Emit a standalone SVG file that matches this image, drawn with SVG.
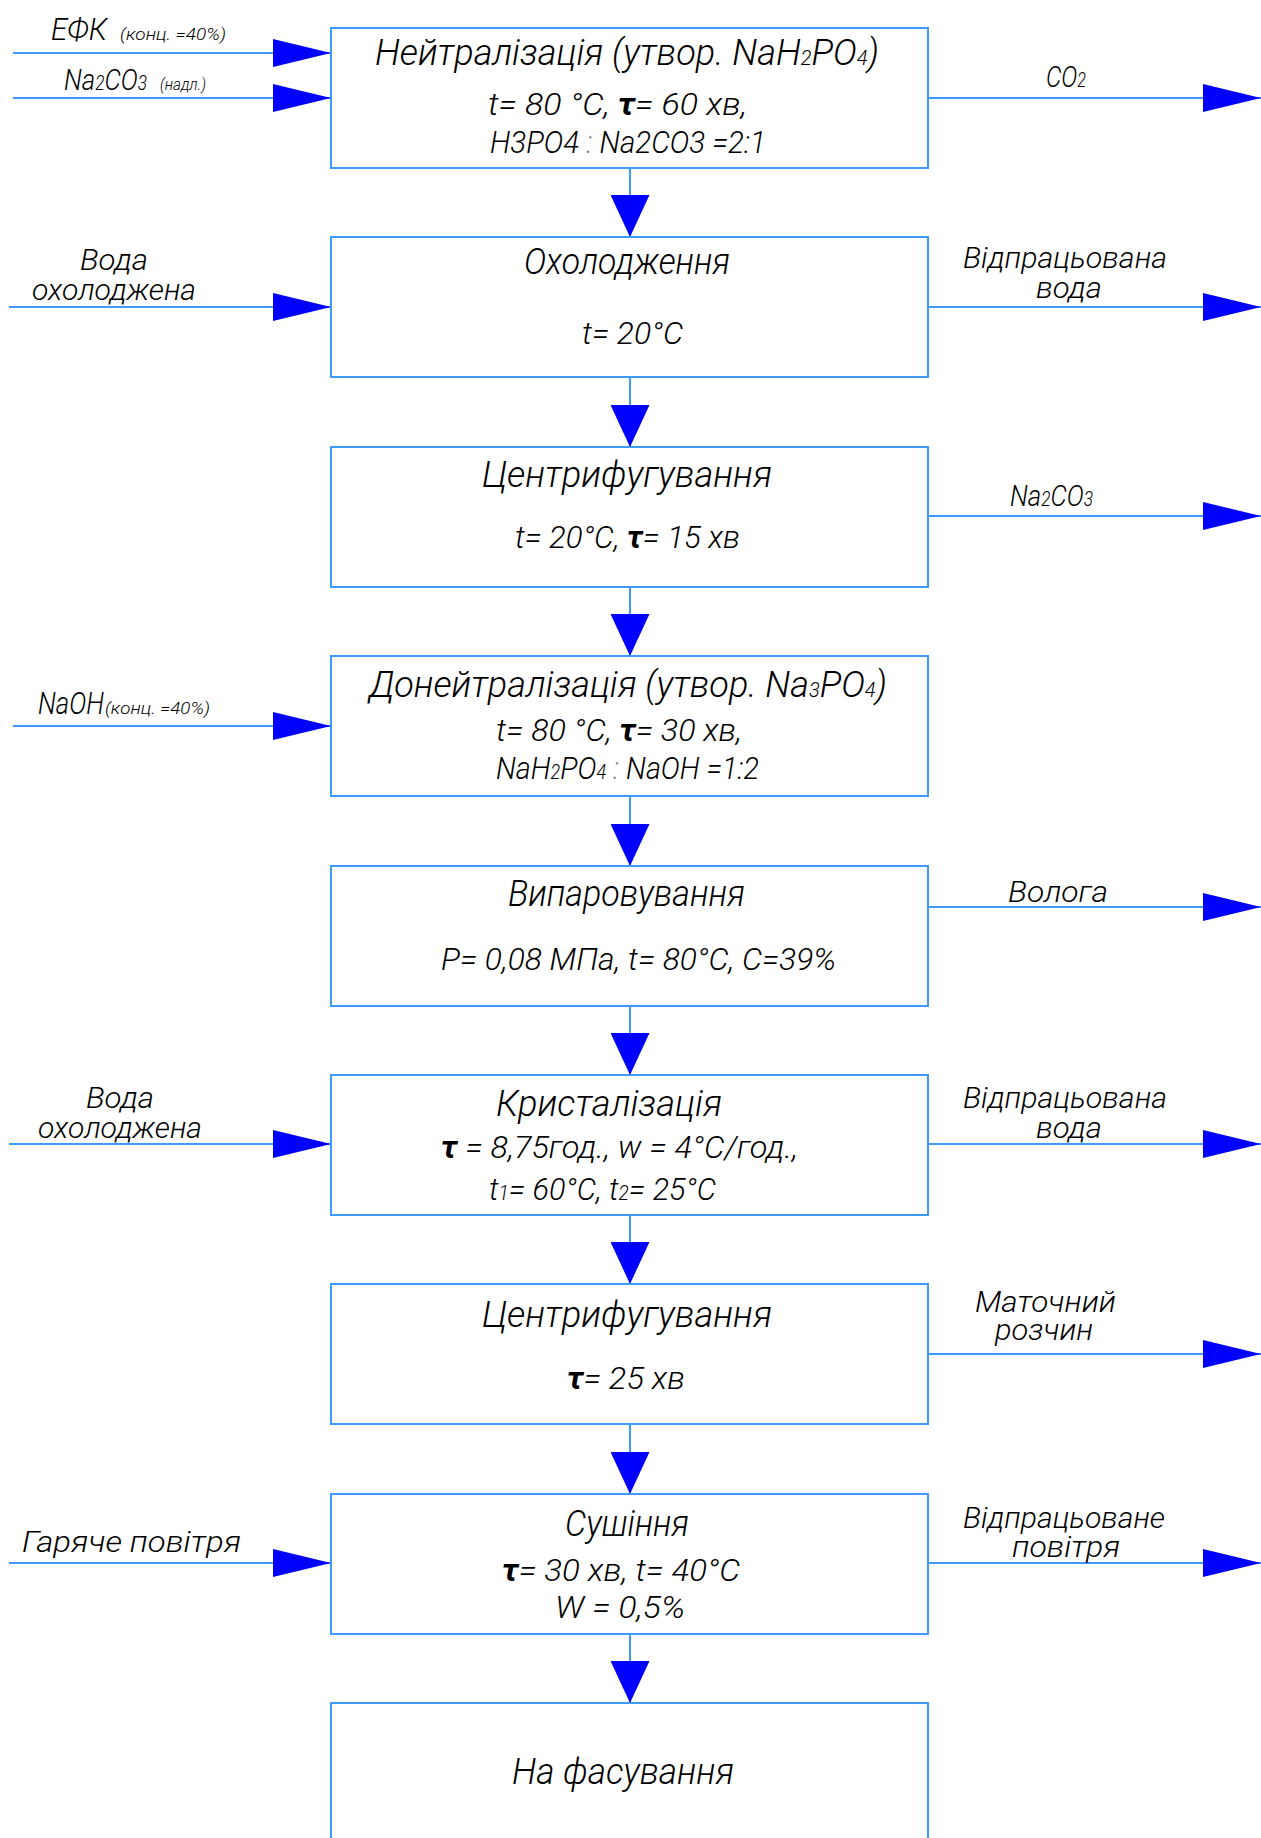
<svg xmlns="http://www.w3.org/2000/svg" width="1261" height="1838" viewBox="0 0 1261 1838">
<style>
.box{fill:#fff;stroke:#3d9bff;stroke-width:2}
.ln{fill:none;stroke:#3d9bff;stroke-width:2}
.h{marker-end:url(#ah)}
.v{marker-end:url(#av)}
text{font-family:Roboto,"Liberation Sans","DejaVu Sans",sans-serif;font-style:italic;font-weight:300;fill:#000}
.tt{font-size:36px}
.pp{font-size:32px}
.sl{font-size:30px}
.sm{font-size:17px}
.sub{font-size:20px}
.tau{font-weight:700}
.col{fill:#888}
</style>
<defs>
<marker id="ah" markerUnits="userSpaceOnUse" viewBox="0 0 58 28" markerWidth="58" markerHeight="28" refX="58" refY="14" orient="auto"><path d="M0,0 L58,14 L0,28 Z" fill="#0000ff"/></marker>
<marker id="av" markerUnits="userSpaceOnUse" viewBox="0 0 42 39" markerWidth="42" markerHeight="39" refX="42" refY="19.5" orient="auto"><path d="M0,0 L42,19.5 L0,39 Z" fill="#0000ff"/></marker>
</defs>

<g id="connectors">
<path class="ln v" d="M630,168 V237"/>
<path class="ln v" d="M630,377 V447"/>
<path class="ln v" d="M630,587 V656"/>
<path class="ln v" d="M630,796 V866"/>
<path class="ln v" d="M630,1006 V1075"/>
<path class="ln v" d="M630,1215 V1284"/>
<path class="ln v" d="M630,1424 V1494"/>
<path class="ln v" d="M630,1634 V1703"/>
<path class="ln h" d="M13,53 H331"/>
<path class="ln h" d="M13,98 H331"/>
<path class="ln h" d="M928,98 H1261"/>
<path class="ln h" d="M9,307 H331"/>
<path class="ln h" d="M928,307 H1261"/>
<path class="ln h" d="M928,516 H1261"/>
<path class="ln h" d="M13,726 H331"/>
<path class="ln h" d="M928,907 H1261"/>
<path class="ln h" d="M9,1144 H331"/>
<path class="ln h" d="M928,1144 H1261"/>
<path class="ln h" d="M928,1354 H1261"/>
<path class="ln h" d="M9,1563 H331"/>
<path class="ln h" d="M928,1563 H1261"/>
</g>

<g id="labels">
<text class="sl" x="51" y="40" style="font-size:32px" textLength="56" lengthAdjust="spacingAndGlyphs">ЕФК</text>
<text class="sm" x="120" y="40" textLength="106" lengthAdjust="spacingAndGlyphs">(конц. =40%)</text>
<text class="sl" x="64" y="90" textLength="83" lengthAdjust="spacingAndGlyphs">Na<tspan class="sub">2</tspan>CO<tspan class="sub">3</tspan></text>
<text class="sm" x="160" y="90" textLength="46" lengthAdjust="spacingAndGlyphs">(надл.)</text>
<text class="sl" x="1046" y="87" textLength="40" lengthAdjust="spacingAndGlyphs">CO<tspan class="sub">2</tspan></text>

<text class="sl" x="80" y="270" textLength="68" lengthAdjust="spacingAndGlyphs">Вода</text>
<text class="sl" x="32" y="300" textLength="164" lengthAdjust="spacingAndGlyphs">охолоджена</text>
<text class="sl" x="963" y="268" textLength="204" lengthAdjust="spacingAndGlyphs">Відпрацьована</text>
<text class="sl" x="1036" y="298" textLength="66" lengthAdjust="spacingAndGlyphs">вода</text>

<text class="sl" x="1010" y="506" textLength="83" lengthAdjust="spacingAndGlyphs">Na<tspan class="sub">2</tspan>CO<tspan class="sub">3</tspan></text>

<text class="sl" x="38" y="714" style="font-size:32px" textLength="66" lengthAdjust="spacingAndGlyphs">NaOH</text>
<text class="sm" x="105" y="714" textLength="105" lengthAdjust="spacingAndGlyphs">(конц. =40%)</text>

<text class="sl" x="1008" y="902" textLength="100" lengthAdjust="spacingAndGlyphs">Волога</text>

<text class="sl" x="86" y="1108" textLength="68" lengthAdjust="spacingAndGlyphs">Вода</text>
<text class="sl" x="38" y="1138" textLength="164" lengthAdjust="spacingAndGlyphs">охолоджена</text>
<text class="sl" x="963" y="1108" textLength="204" lengthAdjust="spacingAndGlyphs">Відпрацьована</text>
<text class="sl" x="1036" y="1138" textLength="66" lengthAdjust="spacingAndGlyphs">вода</text>

<text class="sl" x="975" y="1312" textLength="141" lengthAdjust="spacingAndGlyphs">Маточний</text>
<text class="sl" x="995" y="1340" textLength="98" lengthAdjust="spacingAndGlyphs">розчин</text>

<text class="sl" x="22" y="1552" textLength="219" lengthAdjust="spacingAndGlyphs">Гаряче повітря</text>
<text class="sl" x="963" y="1528" textLength="202" lengthAdjust="spacingAndGlyphs">Відпрацьоване</text>
<text class="sl" x="1012" y="1557" textLength="108" lengthAdjust="spacingAndGlyphs">повітря</text>
</g>

<g id="n1">
<rect class="box" x="331" y="28" width="597" height="140"/>
<text class="tt" x="375" y="65" textLength="504" lengthAdjust="spacingAndGlyphs">Нейтралізація (утвор. NaH<tspan class="sub">2</tspan>PO<tspan class="sub">4</tspan>)</text>
<text class="pp" x="488" y="115" textLength="259" lengthAdjust="spacingAndGlyphs">t= 80 °C, <tspan class="tau">τ</tspan>= 60 хв,</text>
<text class="pp" x="490" y="153" textLength="276" lengthAdjust="spacingAndGlyphs">H3PO4 <tspan class="col">:</tspan> Na2CO3 =2:1</text>
</g>

<g id="n2">
<rect class="box" x="331" y="237" width="597" height="140"/>
<text class="tt" x="524" y="274" textLength="206" lengthAdjust="spacingAndGlyphs">Охолодження</text>
<text class="pp" x="582" y="344" textLength="101" lengthAdjust="spacingAndGlyphs">t= 20°C</text>
</g>

<g id="n3">
<rect class="box" x="331" y="447" width="597" height="140"/>
<text class="tt" x="482" y="487" textLength="290" lengthAdjust="spacingAndGlyphs">Центрифугування</text>
<text class="pp" x="515" y="548" textLength="225" lengthAdjust="spacingAndGlyphs">t= 20°C, <tspan class="tau">τ</tspan>= 15 хв</text>
</g>

<g id="n4">
<rect class="box" x="331" y="656" width="597" height="140"/>
<text class="tt" x="369" y="697" textLength="518" lengthAdjust="spacingAndGlyphs">Донейтралізація (утвор. Na<tspan class="sub">3</tspan>PO<tspan class="sub">4</tspan>)</text>
<text class="pp" x="496" y="741" textLength="246" lengthAdjust="spacingAndGlyphs">t= 80 °C, <tspan class="tau">τ</tspan>= 30 хв,</text>
<text class="pp" x="496" y="779" textLength="263" lengthAdjust="spacingAndGlyphs">NaH<tspan class="sub">2</tspan>PO<tspan class="sub">4</tspan> <tspan class="col">:</tspan> NaOH =1:2</text>
</g>

<g id="n5">
<rect class="box" x="331" y="866" width="597" height="140"/>
<text class="tt" x="508" y="906" textLength="237" lengthAdjust="spacingAndGlyphs">Випаровування</text>
<text class="pp" x="441" y="970" textLength="395" lengthAdjust="spacingAndGlyphs">P= 0,08 МПа, t= 80°C, C=39%</text>
</g>

<g id="n6">
<rect class="box" x="331" y="1075" width="597" height="140"/>
<text class="tt" x="496" y="1116" textLength="226" lengthAdjust="spacingAndGlyphs">Кристалізація</text>
<text class="pp" x="441" y="1158" textLength="357" lengthAdjust="spacingAndGlyphs"><tspan class="tau">τ</tspan> = 8,75год., w = 4°C/год.,</text>
<text class="pp" x="489" y="1200" textLength="227" lengthAdjust="spacingAndGlyphs">t<tspan class="sub">1</tspan>= 60°C, t<tspan class="sub">2</tspan>= 25°C</text>
</g>

<g id="n7">
<rect class="box" x="331" y="1284" width="597" height="140"/>
<text class="tt" x="482" y="1327" textLength="290" lengthAdjust="spacingAndGlyphs">Центрифугування</text>
<text class="pp" x="567" y="1389" textLength="118" lengthAdjust="spacingAndGlyphs"><tspan class="tau">τ</tspan>= 25 хв</text>
</g>

<g id="n8">
<rect class="box" x="331" y="1494" width="597" height="140"/>
<text class="tt" x="565" y="1536" textLength="124" lengthAdjust="spacingAndGlyphs">Сушіння</text>
<text class="pp" x="502" y="1581" textLength="238" lengthAdjust="spacingAndGlyphs"><tspan class="tau">τ</tspan>= 30 хв, t= 40°C</text>
<text class="pp" x="555" y="1618" textLength="130" lengthAdjust="spacingAndGlyphs">W = 0,5%</text>
</g>

<g id="n9">
<rect class="box" x="331" y="1703" width="597" height="145"/>
<text class="tt" x="512" y="1784" textLength="222" lengthAdjust="spacingAndGlyphs">На фасування</text>
</g>
</svg>
